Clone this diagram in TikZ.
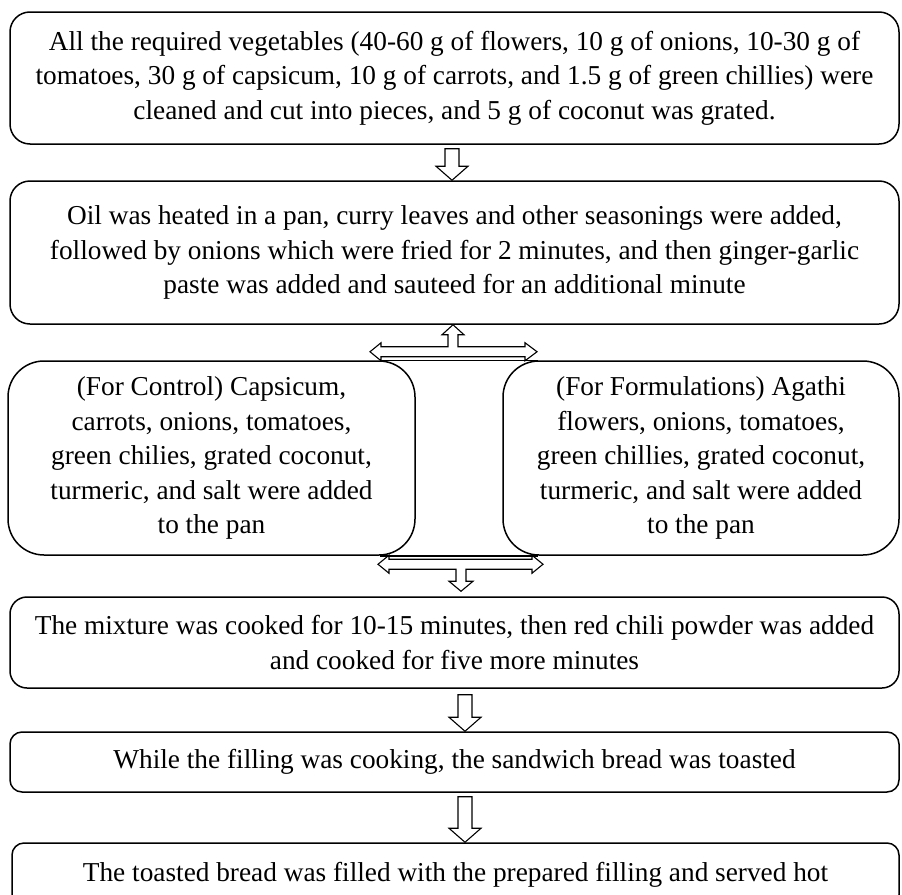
\documentclass[tikz,border=0pt]{standalone}
\usepackage{fontspec}
\setmainfont{Liberation Serif}
\usetikzlibrary{calc}

\tikzset{
  stepbox/.style={draw, line width=1.5pt, rounded corners=#1, align=center, inner sep=0pt,
    font=\fontsize{27.3}{34.5}\selectfont},
  stepbox/.default=18pt,
  blockarrow/.style={draw, line width=1.1pt, line join=miter, fill=white}
}
% hollow arrow pointing down, #1 = top of stem, #2 = tip
\newcommand\hollowdown[2]{%
  \draw[blockarrow] ($(#1)+(-7,0)$) -- ($(#2)+(-7,-14)$) -- ($(#2)+(-16,-14)$) -- (#2)
    -- ($(#2)+(16,-14)$) -- ($(#2)+(7,-14)$) -- ($(#1)+(7,0)$) -- cycle;}

\begin{document}
\begin{tikzpicture}[x=1pt, y=-1pt]
			%%%%% START %%%%%
			\useasboundingbox (0,0) rectangle (902,894);
			\clip (0,0) rectangle (902,894);
			
			\node[stepbox=20pt, minimum width=889pt, minimum height=132pt] (veg) at (454.5,78)
				{All the required vegetables (40-60 g of flowers, 10 g of onions, 10-30 g of\\
				tomatoes, 30 g of capsicum, 10 g of carrots, and 1.5 g of green chillies) were\\
				cleaned and cut into pieces, and 5 g of coconut was grated.};
			
			\node[stepbox=20pt, minimum width=889pt, minimum height=143pt] (oil) at (454.5,252.5)
				{Oil was heated in a pan, curry leaves and other seasonings were added,\\
				followed by onions which were fried for 2 minutes, and then ginger-garlic\\
				paste was added and sauteed for an additional minute};
			
			\node[stepbox=36pt, minimum width=407pt, minimum height=194pt] (ctrl) at (211.5,458)
				{(For Control) Capsicum,\\ carrots, onions, tomatoes,\\ green chilies, grated coconut,\\
				turmeric, and salt were added\\ to the pan};
			
			\node[stepbox=36pt, minimum width=396pt, minimum height=194pt] (form) at (701,458)
				{(For Formulations) Agathi\\ flowers, onions, tomatoes,\\ green chillies, grated coconut,\\
				turmeric, and salt were added\\ to the pan};
			
			\node[stepbox=17pt, minimum width=889pt, minimum height=91pt] (mix) at (454.5,642.5)
				{The mixture was cooked for 10-15 minutes, then red chili powder was added\\
				and cooked for five more minutes};
			
			\node[stepbox=12pt, minimum width=889pt, minimum height=60pt] (toast) at (454.5,762)
				{While the filling was cooking, the sandwich bread was toasted};
			
			\node[stepbox=12pt, minimum width=887pt, minimum height=64pt] (serve) at (455.5,875)
				{The toasted bread was filled with the prepared filling and served hot};
			
			% straight arrows
			\coordinate (colA) at (452,0);
			\coordinate (colC) at (465,0);
			\coordinate (a1s) at ($(veg.south -| colA)+(0,4)$);
			\coordinate (a1t) at (oil.north -| colA);
			\hollowdown{a1s}{a1t}
			\coordinate (a2s) at ($(mix.south -| colC)+(0,6)$);
			\coordinate (a2t) at (toast.north -| colC);
			\hollowdown{a2s}{a2t}
			\coordinate (a3s) at ($(toast.south -| colC)+(0,4)$);
			\coordinate (a3t) at (serve.north -| colC);
			\hollowdown{a3s}{a3t}
			
			% split arrows round the two middle boxes
			\coordinate (jUp) at ($(oil.south)+(-1.5,27)$);
			\draw[blockarrow, shift={(jUp)}] (-83,0) -- (-72,-9) -- (-72,-5) -- (-5,-5) -- (-5,-17)
				-- (-11,-17) -- (0,-27) -- (11,-17) -- (5,-17) -- (5,-5) -- (72,-5) -- (72,-9)
				-- (84,0) -- (72,9) -- (72,5) -- (-72,5) -- (-72,9) -- cycle;
			\coordinate (jDown) at ($(mix.north)+(6.5,-32)$);
			\draw[blockarrow, shift={(jDown)}] (-83,0) -- (-72,-9) -- (-72,-5) -- (71,-5) -- (71,-9)
				-- (82,0) -- (71,9) -- (71,5) -- (5,5) -- (5,17) -- (12,17) -- (0,27) -- (-12,17)
				-- (-5,17) -- (-5,5) -- (-72,5) -- (-72,9) -- cycle;
			
			\draw[line width=1.5pt] ($(ctrl.north east)+(-36,0)$) -- ($(form.north west)+(36,0)$);
			\draw[line width=1.5pt] ($(ctrl.south east)+(-36,0)$) -- ($(form.south west)+(36,0)$);
			
			%%%%% END %%%%%
\end{tikzpicture}
\end{document}
